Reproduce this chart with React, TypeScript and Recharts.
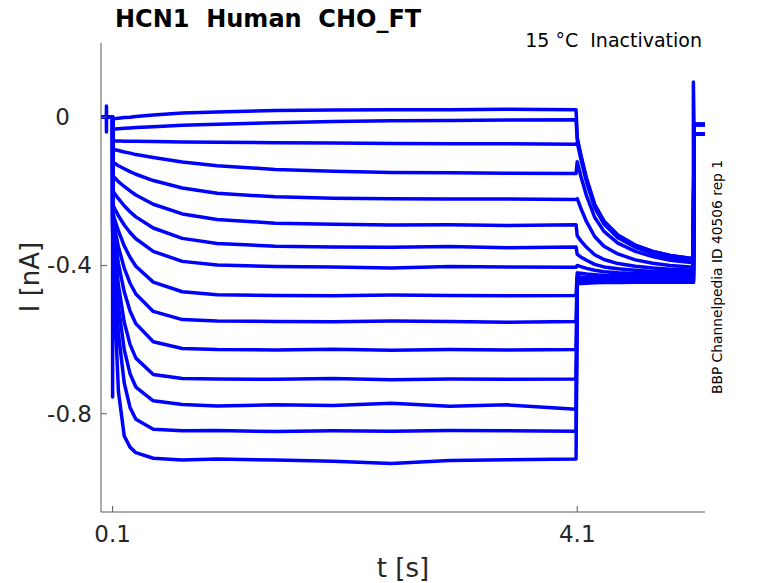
import { LineChart, Line, XAxis, YAxis } from 'recharts';

// sample times [s]; repeated times draw the vertical steps of the protocol
const time = [
  0, 0.046, 0.047, 0.048, 0.1, 0.1, 0.1,
  0.12, 0.15, 0.2, 0.25, 0.3, 0.45, 0.7, 1.0, 1.5, 2.0, 2.5, 3.0, 3.5, 4.09,
  4.1, 4.13, 4.18, 4.25, 4.33, 4.45, 4.6, 4.75, 4.9, 5.1,
  5.1, 5.105, 5.2,
];

// current [nA] of each sweep
const sweep1 = [0, 0, 0.03, 0, 0, -0.005, -0.005, -0.004, -0.003, -0.001, 0.0, 0.002, 0.006, 0.011, 0.014, 0.018, 0.019, 0.02, 0.02, 0.021, 0.02, -0.055, -0.1, -0.165, -0.235, -0.28, -0.318, -0.345, -0.362, -0.373, -0.382, 0.095, -0.02, -0.02];
const sweep2 = [0, 0, -0.04, 0, 0, -0.032, -0.032, -0.032, -0.031, -0.03, -0.029, -0.028, -0.026, -0.022, -0.019, -0.015, -0.012, -0.01, -0.009, -0.008, -0.007, -0.06, -0.104, -0.168, -0.237, -0.282, -0.319, -0.346, -0.362, -0.373, -0.382, -0.382, -0.02, -0.02];
const sweep3 = [0, 0, 0, 0, 0, -0.064, -0.064, -0.064, -0.064, -0.065, -0.065, -0.065, -0.066, -0.067, -0.068, -0.069, -0.07, -0.071, -0.072, -0.072, -0.073, -0.068, -0.112, -0.175, -0.244, -0.288, -0.325, -0.351, -0.368, -0.378, -0.387, -0.387, -0.02, -0.02];
const sweep4 = [0, 0, 0, 0, 0, -0.086, -0.086, -0.088, -0.09, -0.094, -0.097, -0.101, -0.109, -0.121, -0.131, -0.141, -0.146, -0.149, -0.15, -0.151, -0.152, -0.12, -0.158, -0.212, -0.27, -0.308, -0.34, -0.362, -0.376, -0.386, -0.393, -0.393, -0.02, -0.02];
const sweep5 = [0, 0, 0, 0, 0, -0.121, -0.121, -0.125, -0.131, -0.139, -0.147, -0.154, -0.171, -0.191, -0.205, -0.215, -0.219, -0.22, -0.221, -0.221, -0.222, -0.22, -0.245, -0.282, -0.322, -0.348, -0.369, -0.385, -0.394, -0.4, -0.405, -0.405, -0.02, -0.02];
const sweep6 = [0, 0, 0, 0, 0, -0.158, -0.158, -0.164, -0.174, -0.187, -0.199, -0.21, -0.235, -0.261, -0.276, -0.286, -0.289, -0.291, -0.29, -0.292, -0.29, -0.32, -0.333, -0.351, -0.371, -0.384, -0.395, -0.402, -0.407, -0.41, -0.413, -0.413, -0.02, -0.02];
const sweep7 = [0, 0, 0, 0, 0, -0.198, -0.198, -0.207, -0.22, -0.239, -0.255, -0.269, -0.299, -0.327, -0.341, -0.348, -0.35, -0.351, -0.349, -0.352, -0.35, -0.37, -0.377, -0.386, -0.397, -0.404, -0.409, -0.413, -0.416, -0.417, -0.419, -0.419, -0.02, -0.02];
const sweep8 = [0, 0, 0, 0, 0, -0.235, -0.235, -0.248, -0.266, -0.291, -0.311, -0.328, -0.362, -0.389, -0.399, -0.403, -0.404, -0.407, -0.403, -0.404, -0.405, -0.4, -0.403, -0.408, -0.413, -0.417, -0.42, -0.422, -0.423, -0.424, -0.424, -0.424, -0.02, -0.02];
const sweep9 = [0, 0, 0, 0, 0, -0.255, -0.255, -0.278, -0.307, -0.347, -0.378, -0.402, -0.445, -0.471, -0.479, -0.481, -0.482, -0.48, -0.481, -0.482, -0.481, -0.42, -0.421, -0.423, -0.425, -0.427, -0.428, -0.429, -0.429, -0.43, -0.43, -0.43, -0.045, -0.045];
const sweep10 = [0, 0, 0, 0, 0, -0.27, -0.27, -0.305, -0.35, -0.407, -0.448, -0.477, -0.524, -0.546, -0.55, -0.551, -0.552, -0.55, -0.551, -0.553, -0.551, -0.43, -0.431, -0.432, -0.433, -0.434, -0.434, -0.435, -0.435, -0.435, -0.435, -0.435, -0.045, -0.045];
const sweep11 = [0, 0, 0, 0, 0, -0.28, -0.28, -0.331, -0.395, -0.471, -0.523, -0.557, -0.606, -0.624, -0.627, -0.628, -0.626, -0.629, -0.627, -0.628, -0.627, -0.435, -0.436, -0.437, -0.438, -0.439, -0.44, -0.44, -0.44, -0.44, -0.44, -0.44, -0.045, -0.045];
const sweep12 = [0, 0, 0, 0, 0, -0.29, -0.29, -0.365, -0.453, -0.553, -0.613, -0.65, -0.694, -0.705, -0.706, -0.707, -0.705, -0.708, -0.706, -0.707, -0.706, -0.44, -0.44, -0.441, -0.441, -0.442, -0.442, -0.442, -0.442, -0.442, -0.442, -0.442, -0.045, -0.045];
const sweep13 = [0, 0, 0, 0, 0, -0.3, -0.3, -0.399, -0.51, -0.627, -0.692, -0.728, -0.765, -0.775, -0.779, -0.776, -0.778, -0.772, -0.78, -0.776, -0.788, -0.44, -0.441, -0.442, -0.443, -0.444, -0.444, -0.445, -0.445, -0.445, -0.445, -0.445, -0.045, -0.045];
const sweep14 = [0, 0, 0, 0, 0, -0.31, -0.31, -0.443, -0.583, -0.717, -0.783, -0.815, -0.842, -0.846, -0.845, -0.848, -0.846, -0.847, -0.845, -0.846, -0.847, -0.445, -0.445, -0.445, -0.445, -0.445, -0.445, -0.445, -0.445, -0.445, -0.445, -0.445, -0.045, -0.045];
const sweep15 = [0, 0, 0, 0, 0, -0.755, -0.32, -0.52, -0.74, -0.86, -0.89, -0.905, -0.92, -0.925, -0.922, -0.925, -0.928, -0.934, -0.926, -0.924, -0.922, -0.45, -0.449, -0.448, -0.447, -0.446, -0.446, -0.445, -0.445, -0.445, -0.445, -0.445, -0.045, -0.045];

const sweeps = [sweep1, sweep2, sweep3, sweep4, sweep5, sweep6, sweep7, sweep8, sweep9, sweep10, sweep11, sweep12, sweep13, sweep14, sweep15];

const xTicks = [0.1, 4.1];
const yTicks = [0, -0.4, -0.8];

const FONT = '"DejaVu Sans", sans-serif';
const AXIS = '#5a5a5a';
const TEXT = '#262626';

const rows = time.map((t, i) => {
  const row: Record<string, number> = { t };
  sweeps.forEach((s, k) => {
    row['s' + k] = s[i];
  });
  return row;
});

const XTick = (props: any) => {
  const { x, y, payload } = props;
  return (
    <g>
      <line x1={x} y1={y} x2={x} y2={y - 6} stroke={AXIS} />
      <text x={x} y={y + 30} textAnchor="middle" fontSize={23} fill={TEXT} fontFamily={FONT}>
        {String(payload.value)}
      </text>
    </g>
  );
};

const YTick = (props: any) => {
  const { x, y, payload } = props;
  const label = payload.value === 0 ? '0' : String(payload.value);
  const right = payload.value === 0 ? x - 31 : x - 9;
  return (
    <g>
      <line x1={x} y1={y} x2={x + 6} y2={y} stroke={AXIS} />
      <text x={right} y={y + 8} textAnchor="end" fontSize={23} fill={TEXT} fontFamily={FONT}>
        {label}
      </text>
    </g>
  );
};

export default function App() {
  return (
    <div style={{ position: 'absolute', left: 0, top: 0, width: 778, height: 583, background: '#fff' }}>
      <LineChart width={778} height={583} data={rows} margin={{ top: 43, right: 73, bottom: 0, left: 0 }}>
        <XAxis
          dataKey="t"
          type="number"
          domain={[0, 5.2]}
          ticks={xTicks}
          allowDataOverflow
          height={71}
          tickSize={0}
          tickMargin={0}
          tickLine={false}
          axisLine={{ stroke: AXIS }}
          tick={<XTick />}
          interval={0}
        />
        <YAxis
          type="number"
          domain={[-1.065, 0.2]}
          ticks={yTicks}
          allowDataOverflow
          width={101}
          tickSize={0}
          tickMargin={0}
          tickLine={false}
          axisLine={{ stroke: AXIS }}
          tick={<YTick />}
          interval={0}
        />
        {sweeps.map((_, k) => (
          <Line
            key={k}
            dataKey={'s' + k}
            type="linear"
            stroke="#0000ff"
            strokeWidth={3.5}
            strokeLinejoin="round"
            dot={false}
            activeDot={false}
            isAnimationActive={false}
          />
        ))}
      </LineChart>
      <svg
        width={778}
        height={583}
        style={{ position: 'absolute', left: 0, top: 0, pointerEvents: 'none' }}
      >
        <text x={115} y={27} fontSize={24} fontWeight="bold" fill="#000" fontFamily={FONT} style={{ whiteSpace: 'pre' }}>
          {'HCN1  Human  CHO_FT'}
        </text>
        <text x={702} y={47} textAnchor="end" fontSize={19} fill="#000" fontFamily={FONT} style={{ whiteSpace: 'pre' }}>
          {'15 °C  Inactivation'}
        </text>
        <text
          x={722}
          y={277}
          transform="rotate(-90 722 277)"
          textAnchor="middle"
          fontSize={13.8}
          fill="#000"
          fontFamily={FONT}
        >
          BBP Channelpedia ID 40506 rep 1
        </text>
        <text
          x={39}
          y={277}
          transform="rotate(-90 39 277)"
          textAnchor="middle"
          fontSize={26}
          fill={TEXT}
          fontFamily={FONT}
        >
          I [nA]
        </text>
        <text x={403} y={577} textAnchor="middle" fontSize={26} fill={TEXT} fontFamily={FONT}>
          t [s]
        </text>
      </svg>
    </div>
  );
}
